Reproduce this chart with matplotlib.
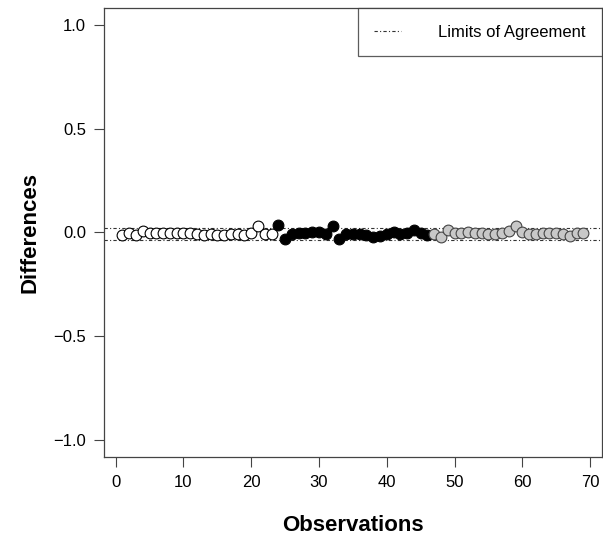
import matplotlib
matplotlib.use("Agg")
import matplotlib.pyplot as plt
import numpy as np
from matplotlib.lines import Line2D

plt.rcParams['font.family'] = ['Liberation Sans', 'DejaVu Sans']

# differences per observation, three groups
white_diff = [-0.012, -0.002, -0.012, 0.008, -0.003, -0.003, -0.003, -0.003,
              -0.003, -0.003, -0.003, -0.005, -0.010, -0.008, -0.012, -0.012,
              -0.008, -0.005, -0.012, -0.003, 0.030, -0.005, -0.005]
black_diff = [0.034, -0.030, -0.005, -0.003, -0.002, 0.000, 0.002, -0.005,
              0.030, -0.032, -0.005, -0.008, -0.008, -0.012, -0.020, -0.015,
              -0.005, 0.000, -0.005, -0.003, 0.012, -0.002, -0.010]
grey_diff = [-0.008, -0.022, 0.012, -0.003, -0.003, 0.000, -0.003, -0.003,
             -0.005, -0.008, -0.003, 0.005, 0.032, 0.000, -0.005, -0.008,
             -0.003, -0.003, -0.003, -0.005, -0.018, -0.003, -0.003]
loa_upper = 0.024
loa_lower = -0.036
x_ticks = [0, 10, 20, 30, 40, 50, 60, 70]
y_ticks = [-1.0, -0.5, 0.0, 0.5, 1.0]

n1, n2 = len(white_diff), len(black_diff)
obs_white = np.arange(1, n1 + 1)
obs_black = np.arange(n1 + 1, n1 + n2 + 1)
obs_grey = np.arange(n1 + n2 + 1, n1 + n2 + len(grey_diff) + 1)

fig = plt.figure(figsize=(6.03, 5.40), dpi=100)
ax = fig.add_axes([0.1725, 0.1537, 0.8255, 0.8315])

ax.axhline(loa_upper, color='#333333', lw=0.8, ls=(0, (3, 2, 1, 2)))
ax.axhline(loa_lower, color='#333333', lw=0.8, ls=(0, (3, 2, 1, 2)))

ms = 60
ax.scatter(obs_white, white_diff, s=ms, facecolor='white', edgecolor='black', lw=0.8, zorder=3)
ax.scatter(obs_black, black_diff, s=ms, facecolor='black', edgecolor='black', lw=0.8, zorder=3)
ax.scatter(obs_grey, grey_diff, s=ms, facecolor='#c8c8c8', edgecolor='#444444', lw=0.8, zorder=3)

ax.set_xlim(-1.72, 71.72)
ax.set_ylim(-1.08, 1.08)
ax.set_xticks(x_ticks)
ax.set_yticks(y_ticks)
ax.set_yticklabels(['\u22121.0', '\u22120.5', '0.0', '0.5', '1.0'])
ax.tick_params(labelsize=12, length=7, width=0.8, color='#444444', pad=6)

for sp in ax.spines.values():
    sp.set_color('#444444')
    sp.set_linewidth(0.9)

ax.set_xlabel('Observations', fontsize=16, fontweight='bold', labelpad=18)
ax.set_ylabel('Differences', fontsize=16, fontweight='bold', labelpad=9)

h = Line2D([], [], color='#333333', lw=0.8, ls=(0, (3, 2, 1, 2)))
leg = ax.legend([h], ['Limits of Agreement'], loc='upper right', fontsize=12,
                frameon=True, fancybox=False, borderaxespad=0,
                handlelength=1.6, handletextpad=2.2, borderpad=1.0)
leg.get_frame().set_edgecolor('#333333')
leg.get_frame().set_linewidth(0.9)

fig.savefig('out.png', dpi=100)
